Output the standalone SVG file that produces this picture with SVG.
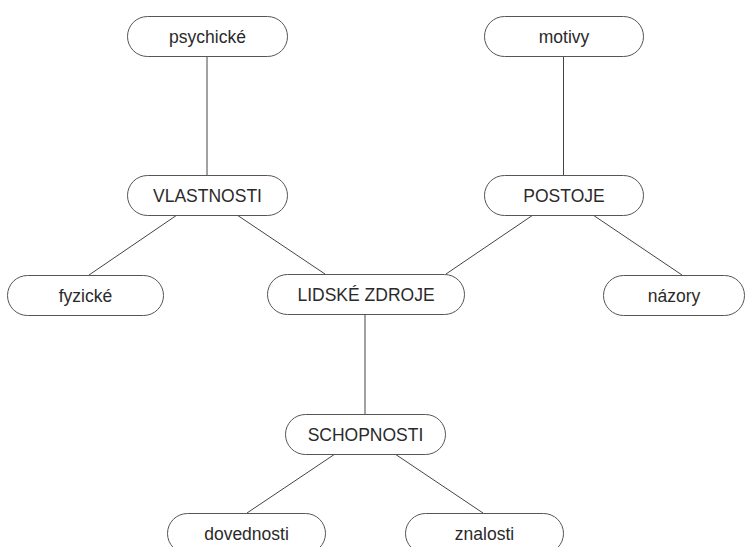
<svg xmlns="http://www.w3.org/2000/svg" width="750" height="547" viewBox="0 0 750 547">
<style>
.n rect{fill:#fff;stroke:#555;stroke-width:1}
.n text{font-family:"Liberation Sans",Arial,sans-serif;font-size:17.5px;fill:#2a2a2a;text-anchor:middle;dominant-baseline:central}
#connectors line{stroke:#444;stroke-width:1}
</style>
<rect width="750" height="547" fill="#fff"/>
<g id="connectors">
<line x1="207" y1="56" x2="207" y2="175"/>
<line x1="563.5" y1="56" x2="563.5" y2="175"/>
<line x1="177" y1="215" x2="89" y2="275"/>
<line x1="237" y1="215" x2="325" y2="274"/>
<line x1="533" y1="215" x2="446" y2="274"/>
<line x1="593" y1="215" x2="682" y2="275"/>
<line x1="365" y1="314" x2="365" y2="414"/>
<line x1="335" y1="454" x2="247" y2="513"/>
<line x1="395" y1="454" x2="483" y2="513"/>
</g>
<g id="psychicke" class="n"><rect x="127.5" y="16.5" width="160" height="40" rx="20"/><text x="207.5" y="36.5">psychické</text></g>
<g id="motivy" class="n"><rect x="484.5" y="16.5" width="159" height="40" rx="20"/><text x="564" y="36.5">motivy</text></g>
<g id="vlastnosti" class="n"><rect x="127.5" y="175.5" width="160" height="40" rx="20"/><text x="207.5" y="195.5">VLASTNOSTI</text></g>
<g id="postoje" class="n"><rect x="484.5" y="175.5" width="159" height="40" rx="20"/><text x="564" y="195.5">POSTOJE</text></g>
<g id="fyzicke" class="n"><rect x="7.5" y="275.5" width="156" height="40" rx="20"/><text x="85.5" y="295.5">fyzické</text></g>
<g id="lidske-zdroje" class="n"><rect x="267.5" y="274.5" width="197" height="40" rx="20"/><text x="366" y="294.5">LIDSKÉ ZDROJE</text></g>
<g id="nazory" class="n"><rect x="603.5" y="275.5" width="141" height="40" rx="20"/><text x="674" y="295.5">názory</text></g>
<g id="schopnosti" class="n"><rect x="285.5" y="414.5" width="160" height="40" rx="20"/><text x="365.5" y="434.5">SCHOPNOSTI</text></g>
<g id="dovednosti" class="n"><rect x="167.5" y="513.5" width="158" height="40" rx="20"/><text x="246.5" y="533.5">dovednosti</text></g>
<g id="znalosti" class="n"><rect x="405.5" y="513.5" width="158" height="40" rx="20"/><text x="484.5" y="533.5">znalosti</text></g>
</svg>
